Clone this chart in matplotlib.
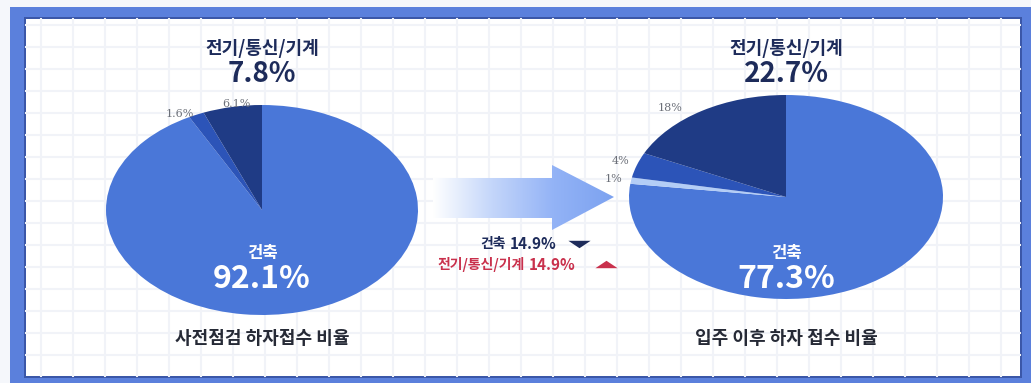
import matplotlib.pyplot as plt
import numpy as np
from matplotlib.colors import LinearSegmentedColormap
from matplotlib.patches import Polygon, Rectangle

plt.rcParams["font.family"] = ["Noto Sans CJK KR", "DejaVu Sans"]

W, H = 1031, 383

# data
before_labels = ["건축", "기타", "전기/통신/기계"]
before_values = [92.1, 1.6, 6.1]
before_small = ["", "1.6%", "6.1%"]
after_labels = ["건축", "기타", "설비", "전기/통신/기계"]
after_values = [77.3, 1.0, 4.0, 18.0]
after_small = ["", "1%", "4%", "18%"]
before_title = "사전점검 하자접수 비율"
after_title = "입주 이후 하자 접수 비율"
before_elec = "7.8%"
after_elec = "22.7%"
before_build = "92.1%"
after_build = "77.3%"
change_build = "14.9%"
change_elec = "14.9%"

BUILD = "#4a77d8"
NAVY = "#1f3b85"
MID = "#2c54b8"
LIGHT = "#b3cdf6"
TEXT_NAVY = "#1d2b5a"
RED = "#c9304c"


def px_axes(fig, cx, cy, rx, ry):
    return fig.add_axes([(cx - rx) / W, (H - cy - ry) / H, 2 * rx / W, 2 * ry / H])


fig = plt.figure(figsize=(W / 100, H / 100), dpi=100)
fig.patch.set_facecolor("#f5f7fb")

bg = fig.add_axes([0, 0, 1, 1])
bg.set_xlim(0, W)
bg.set_ylim(H, 0)
bg.axis("off")

# frame and grid paper
bg.add_patch(Rectangle((10, 7), W, H, facecolor="#5b80dc", edgecolor="none"))
bg.add_patch(Rectangle((24, 17), 998, 361, facecolor="#3b57a8", edgecolor="none"))
bg.add_patch(Rectangle((26, 19), 994, 357, facecolor="white", edgecolor="none"))
for gx in np.arange(41, 1020, 32):
    bg.plot([gx, gx], [19, 376], color="#f1f3f8", lw=1.5, zorder=1)
for gy in np.arange(25, 376, 22):
    bg.plot([26, 1020], [gy, gy], color="#f1f3f8", lw=1.5, zorder=1)

# gradient arrow
arrow = Polygon([(433, 178), (552, 178), (552, 165), (614, 197), (552, 230),
                 (552, 218), (433, 218)], closed=True, facecolor="none", edgecolor="none")
bg.add_patch(arrow)
cmap = LinearSegmentedColormap.from_list("arr", ["#ffffff", "#c3d5fa", "#93b3f6", "#7ca2f0"])
grad = np.linspace(0, 1, 256).reshape(1, -1)
img = bg.imshow(grad, cmap=cmap, extent=(433, 614, 230, 165), aspect="auto", zorder=2)
img.set_clip_path(arrow)
bg.set_xlim(0, W)
bg.set_ylim(H, 0)

# pies
ax1 = px_axes(fig, 262, 210, 156, 105)
ax1.pie(before_values, colors=[BUILD, MID, NAVY], startangle=90, counterclock=False,
        wedgeprops=dict(linewidth=0))
ax1.set_aspect("auto")
ax1.set_xlim(-1, 1)
ax1.set_ylim(-1, 1)
ax1.axis("off")

ax2 = px_axes(fig, 786, 197, 157, 102)
ax2.pie(after_values, colors=[BUILD, LIGHT, MID, NAVY], startangle=90, counterclock=False,
        wedgeprops=dict(linewidth=0))
ax2.set_aspect("auto")
ax2.set_xlim(-1, 1)
ax2.set_ylim(-1, 1)
ax2.axis("off")

# text layer
top = fig.add_axes([0, 0, 1, 1])
top.set_xlim(0, W)
top.set_ylim(H, 0)
top.axis("off")
top.patch.set_alpha(0)

for cx, elec, build, title in [(262, before_elec, before_build, before_title),
                               (786, after_elec, after_build, after_title)]:
    top.text(cx, 48, before_labels[2], ha="center", va="center", fontsize=13,
             fontweight="bold", color=TEXT_NAVY)
    top.text(cx, 74, elec, ha="center", va="center", fontsize=20,
             fontweight="bold", color=TEXT_NAVY)
    top.text(cx, 253, before_labels[0], ha="center", va="center", fontsize=12,
             fontweight="bold", color="white")
    top.text(cx, 279, build, ha="center", va="center", fontsize=23,
             fontweight="bold", color="white")
    top.text(cx, 339, title, ha="center", va="center", fontsize=13,
             fontweight="bold", color="#262a36")

small_font = dict(fontsize=8, color="#6b6f78", family="DejaVu Serif", ha="center", va="center")
top.text(180, 114, before_small[1], **small_font)
top.text(236, 104, before_small[2], **small_font)
top.text(670, 108, after_small[3], **small_font)
top.text(621, 161, after_small[2], **small_font)
top.text(614, 179, after_small[1], **small_font)

# change summary under the arrow
down = [(-1.5, 0.5), (1.5, 0.5), (0, -0.5)]
up = [(-1.5, -0.5), (1.5, -0.5), (0, 0.5)]
top.text(506, 244, before_labels[0], ha="right", va="center", fontsize=10,
         fontweight="bold", color=TEXT_NAVY)
top.text(510, 244, change_build, ha="left", va="center", fontsize=11,
         fontweight="bold", color=TEXT_NAVY)
top.plot([579], [244], marker=down, markersize=16, color=TEXT_NAVY, markeredgewidth=0)
top.text(525, 265, before_labels[2], ha="right", va="center", fontsize=10,
         fontweight="bold", color=RED)
top.text(529, 265, change_elec, ha="left", va="center", fontsize=11,
         fontweight="bold", color=RED)
top.plot([606], [264], marker=up, markersize=16, color=RED, markeredgewidth=0)

fig.savefig("out.png", dpi=100)
